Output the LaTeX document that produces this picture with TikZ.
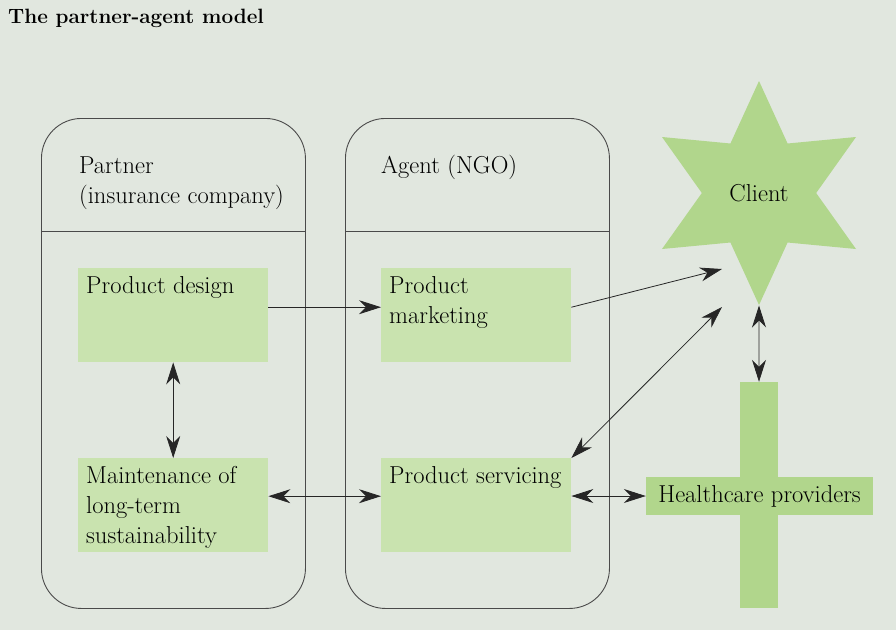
\documentclass[tikz,border=0pt]{standalone}
\usepackage{fontspec}
\usetikzlibrary{shapes.geometric,arrows.meta}
\definecolor{bgcol}{HTML}{E1E7DF}
\definecolor{boxgreen}{HTML}{C9E3AF}
\definecolor{shapegreen}{HTML}{B1D68C}
\definecolor{linegray}{HTML}{4A4A4A}
\tikzset{
	container/.style={draw=linegray, line width=0.9pt, rounded corners=40pt, anchor=north west,
		minimum width=264pt, minimum height=490pt, inner sep=0pt},
	greenbox/.style={fill=boxgreen, anchor=north west, inner sep=8pt},
	header/.style={anchor=base west, inner sep=0pt, align=left},
	link/.style={draw=black!85, line width=0.8pt},
	tip/.tip={Stealth[length=22pt,width=14pt,inset=7pt]},
}
\newcommand{\boxtext}[1]{\parbox[c][78pt][t]{174pt}{\raggedright #1}}

\begin{document}
\begin{tikzpicture}[x=1pt,y=-1pt,font=\fontsize{24.5}{30}\selectfont]
	\fill[bgcol] (0,0) rectangle (896,630);
	\useasboundingbox (0,0) rectangle (896,630);
	\node[anchor=base west, inner sep=0pt, font=\bfseries\fontsize{20.7}{30}\selectfont] (title) at (8,23) {The partner-agent model};

	% the two containers
	\node[container] (partner) at (41,118) {};
	\node[container] (agent) at (345,118) {};
	\draw[linegray, line width=0.9pt] (partner.west |- 0,231) -- (partner.east |- 0,231);
	\draw[linegray, line width=0.9pt] (agent.west |- 0,231) -- (agent.east |- 0,231);
	\node[header] (partnerhead) at (79,203) {Partner\\(insurance company)};
	\node[header] (agenthead) at (381,173) {Agent (NGO)};

	% boxes
	\node[greenbox] (design) at (78,268) {\boxtext{Product design}};
	\node[greenbox] (marketing) at (381,268) {\boxtext{Product\\marketing}};
	\node[greenbox] (maint) at (78,458) {\boxtext{Maintenance of\\long-term\\sustainability}};
	\node[greenbox] (servicing) at (381,458) {\boxtext{Product servicing}};

	% client and healthcare providers
	\node[star, star points=6, star point ratio=1.96, minimum size=224pt, inner sep=0pt, fill=shapegreen] (client) at (759,193) {Client};
	\node[fill=shapegreen, minimum width=38pt, minimum height=226pt, inner sep=0pt] (vbar) at (759,495) {};
	\node[fill=shapegreen, minimum width=227pt, minimum height=38pt, inner sep=0pt] (health) at (759.5,496) {Healthcare providers};
	\coordinate (c1) at (722,269);
	\coordinate (c2) at (722,307);

	% connectors
	\draw[link,-tip] ([yshift=8pt]design.east) -- ([yshift=8pt]marketing.west);
	\draw[link,-tip] ([yshift=8pt]marketing.east) -- (c1);
	\draw[link,tip-tip] (servicing.north east) -- (c2);
	\draw[link,tip-tip] (design.south) -- (maint.north);
	\draw[link,tip-tip] ([yshift=9pt]maint.east) -- ([yshift=9pt]servicing.west);
	\draw[link,tip-tip] (servicing.east |- health.west) -- (health.west);
	\draw[link,tip-tip] (client.south) -- (vbar.north);
\end{tikzpicture}
\end{document}
